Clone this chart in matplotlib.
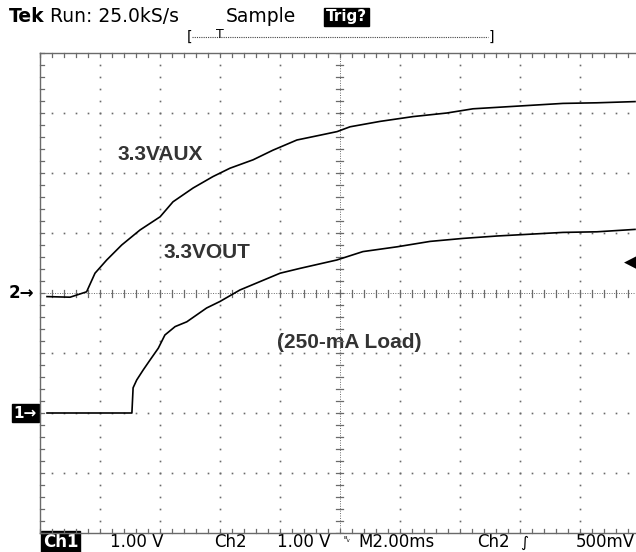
import numpy as np
import matplotlib
matplotlib.use("Agg")
import matplotlib.pyplot as plt

# ---------------- data (read from the screen capture) ----------------
# time in ms (2 ms/div, 10 divisions), voltage in V (1 V/div)
aux_t = [0.25, 1.02, 1.57, 1.85, 2.24, 2.74, 3.35, 4.02, 4.45, 5.12, 5.78, 6.35,
         7.12, 7.78, 8.58, 9.35, 9.92, 10.35, 11.35, 12.45, 13.58, 14.45, 15.78,
         17.45, 18.58, 19.85]
aux_v = [-0.06, -0.07, 0.02, 0.33, 0.55, 0.80, 1.05, 1.27, 1.52, 1.75, 1.94, 2.08,
         2.22, 2.38, 2.55, 2.63, 2.69, 2.77, 2.86, 2.94, 3.00, 3.07, 3.11,
         3.16, 3.17, 3.19]
out_t = [0.25, 3.08, 3.12, 3.24, 3.46, 3.68, 3.96, 4.18, 4.52, 4.91, 5.57, 6.02,
         6.68, 7.35, 8.02, 8.68, 9.91, 10.78, 11.92, 13.02, 14.12, 15.25, 16.35,
         17.45, 18.58, 19.85]
out_v = [0.0, 0.0, 0.42, 0.55, 0.72, 0.88, 1.08, 1.30, 1.44, 1.52, 1.75, 1.86,
         2.05, 2.19, 2.33, 2.41, 2.55, 2.69, 2.77, 2.86, 2.91, 2.95, 2.98,
         3.01, 3.02, 3.06]
ch2_ground_div = 0.0     # "2->" marker (screen centre)
ch1_ground_div = -2.0    # "1->" marker
trigger_level_v = 0.5    # Ch2 trigger at 500 mV
volts_per_div = 1.0
ms_per_div = 2.0

trace_labels = ["3.3VAUX", "3.3VOUT", "(250-mA Load)"]
header_run = "Run: 25.0kS/s"
header_mode = "Sample"
header_trig = "Trig?"
footer = ["1.00 V", "Ch2", "1.00 V", "M2.00ms", "Ch2", "500mV"]

label_font = "Liberation Sans"
scope_font = "DejaVu Sans"

W, H = 636, 552
fig = plt.figure(figsize=(W / 100, H / 100), dpi=100)
fig.patch.set_facecolor("white")

# overlay in pixel coordinates for screen furniture
ov = fig.add_axes([0, 0, 1, 1])
ov.set_xlim(0, W)
ov.set_ylim(H, 0)
ov.axis("off")

# graticule axes (10 x 8 divisions, 60 px/div)
L, T, DIV = 39.5, 53.0, 60.0
ax = fig.add_axes([L / W, (H - T - 8 * DIV) / H, 10 * DIV / W, 8 * DIV / H])
ax.set_xlim(0, 10 * ms_per_div)
ax.set_ylim(-4, 4)
ax.axis("off")

gcol = "#6a6a6a"
xmaj = np.arange(0, 21, ms_per_div)
xmin = np.arange(0, 20.01, ms_per_div / 5)
ymaj = np.arange(-4, 5, 1)
ymin = np.arange(-4, 4.01, 0.2)

# dotted grid lines
for x in xmaj[1:-1]:
    if abs(x - 10) > 1e-6:
        ax.plot(np.full_like(ymin, x), ymin, ls="none", marker="s", ms=1.2,
                mec="none", mfc=gcol)
for y in ymaj[1:-1]:
    if y != 0:
        ax.plot(xmin, np.full_like(xmin, y), ls="none", marker="s", ms=1.2,
                mec="none", mfc=gcol)

# centre cross with ticks
ax.axhline(0, color=gcol, lw=0.7, ls=(0, (1, 1.5)))
ax.axvline(10, color=gcol, lw=0.7, ls=(0, (1, 1.5)))
pxx = ms_per_div / DIV   # data units per pixel (x)
pxy = 1 / DIV            # data units per pixel (y)
for x in xmin:
    ax.plot([x, x], [-3.5 * pxy, 3.5 * pxy], color=gcol, lw=0.9)
for y in ymin:
    ax.plot([10 - 3.5 * pxx, 10 + 3.5 * pxx], [y, y], color=gcol, lw=0.9)

# border with inward ticks
ax.plot([0, 0], [-4, 4], color=gcol, lw=1.0, clip_on=False)
ax.plot([0, 20], [4, 4], color=gcol, lw=1.0, clip_on=False)
ax.plot([0, 20], [-4, -4], color=gcol, lw=1.0, clip_on=False)
for x in xmin:
    ax.plot([x, x], [4, 4 - 4 * pxy], color=gcol, lw=0.9, clip_on=False)
    ax.plot([x, x], [-4, -4 + 4 * pxy], color=gcol, lw=0.9, clip_on=False)
for y in ymin:
    ax.plot([0, 4 * pxx], [y, y], color=gcol, lw=0.9, clip_on=False)

# traces
aux_div = ch2_ground_div + np.array(aux_v) / volts_per_div
out_div = ch1_ground_div + np.array(out_v) / volts_per_div
ax.plot(aux_t, aux_div, color="black", lw=1.2, zorder=5)
ax.plot(out_t, out_div, color="black", lw=1.2, zorder=5)

# annotations
lab_kw = dict(fontsize=15, fontweight="bold", family=label_font, color="#333333",
              va="center", ha="left")
ov.text(118, 154, trace_labels[0], **lab_kw)
ov.text(164, 253, trace_labels[1], **lab_kw)
ov.text(277, 343, trace_labels[2], **lab_kw)

# ground markers
def ypix(div):
    return T + (4 - div) * DIV

ov.text(34, ypix(ch2_ground_div), "2\u2192", fontsize=12, fontweight="bold",
        family="DejaVu Sans", ha="right", va="center", color="black")
ov.text(37, ypix(ch1_ground_div), "1\u2192", fontsize=11, fontweight="bold",
        family="DejaVu Sans", ha="right", va="center", color="white",
        bbox=dict(boxstyle="square,pad=0.1", fc="black", ec="black"))
# trigger level arrow
ov.text(637, ypix(ch2_ground_div + trigger_level_v / volts_per_div), "\u25c0",
        fontsize=12, family="DejaVu Sans", ha="right", va="center", color="black")

# header
hk = dict(fontsize=13.5, family=scope_font, va="center", color="black")
ov.text(9, 17, "Tek", fontweight="bold", ha="left", **hk)
ov.text(50, 17, header_run, ha="left", **hk)
ov.text(226, 17, header_mode, ha="left", **hk)
ov.text(326, 17, header_trig, ha="left", fontweight="bold",
        fontsize=11, family=scope_font, va="center", color="white",
        bbox=dict(boxstyle="square,pad=0.12", fc="black", ec="black"))
# record bracket
ov.plot([192, 488], [37, 37], color="#444444", lw=0.8, ls=(0, (1, 1)))
ov.text(190, 37, "[", ha="center", va="center", fontsize=10, family="DejaVu Sans")
ov.text(491, 37, "]", ha="center", va="center", fontsize=10, family="DejaVu Sans")
ov.text(220, 35, "T", ha="center", va="center", fontsize=9, family="DejaVu Sans")

# footer
fk = dict(fontsize=12, family="DejaVu Sans", va="center", color="black", ha="left")
ov.text(43, 542, "Ch1", fontweight="bold", fontsize=12, family="DejaVu Sans",
        va="center", ha="left", color="white",
        bbox=dict(boxstyle="square,pad=0.1", fc="black", ec="black"))
ov.text(110, 542, footer[0], **fk)
ov.text(214, 542, footer[1], **fk)
ov.text(277, 542, footer[2], **fk)
ov.text(343, 540, "\u1d2e\u1d65", fontsize=6, family="DejaVu Sans", va="center", ha="left")
ov.text(358, 542, footer[3], **fk)
ov.text(477, 542, footer[4], **fk)
ov.text(520, 542, "\u222b", fontsize=11, family="DejaVu Sans", va="center", ha="left")
ov.text(635, 542, footer[5], fontsize=12, family="DejaVu Sans", va="center", ha="right")

fig.savefig("out.png", dpi=100, facecolor="white")
